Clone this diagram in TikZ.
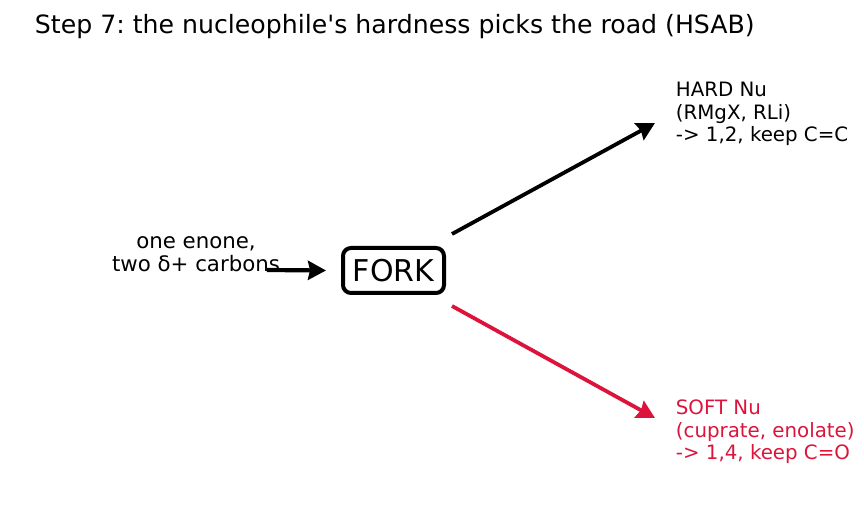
\documentclass[tikz,border=0pt]{standalone}
\usepackage{fontspec}
\setmainfont{DejaVu Sans}
\usetikzlibrary{arrows.meta}
\usetikzlibrary{positioning}
\definecolor{crimson}{RGB}{220,20,60}
\frenchspacing

\begin{document}
\begin{tikzpicture}[x=1pt,y=1pt,->,>={Stealth[length=18pt,width=19pt,inset=2pt]},
					line width=3.8pt]
					\tikzstyle{every node}=[inner sep=0pt]
					\tikzstyle{forkbox}=[draw,line width=4pt,rounded corners=8pt,minimum width=101pt,minimum height=45pt,font=\fontsize{30}{36}\selectfont]
					\tikzstyle{side}=[align=left,anchor=west,font=\fontsize{19.8}{22.5}\selectfont]
					
					\useasboundingbox (0,0) rectangle (864,511);
					
					\node[anchor=west,font=\fontsize{25.2}{29}\selectfont] (title) at (33,484) {Step 7: the nucleophile\textquotesingle s hardness picks the road (HSAB)};
					
					\node[align=center,font=\fontsize{21.3}{23}\selectfont] (enone) at (196,257) {one enone,\\two δ+ carbons};
					\node[forkbox]        (fork)  at (393.5,240.5) {FORK};
					\node[side]           (hard)  at (674,397)     {HARD Nu\\(RMgX, RLi)\\-> 1,2, keep C=C};
					\node[side,crimson]   (soft)  at (674,79)      {SOFT Nu\\(cuprate, enolate)\\-> 1,4, keep C=O};
					
					\coordinate (in_start) at (267,241);
					
					\draw[line width=4.2pt] (in_start) -- ([xshift=-15pt]fork.west);
					\draw ([shift={(6,12)}]fork.north east) -- ([shift={(-19,-9)}]hard.west);
					\draw[crimson] ([shift={(6,-11)}]fork.south east) -- ([shift={(-19,14)}]soft.west);
					
\end{tikzpicture}
\end{document}
